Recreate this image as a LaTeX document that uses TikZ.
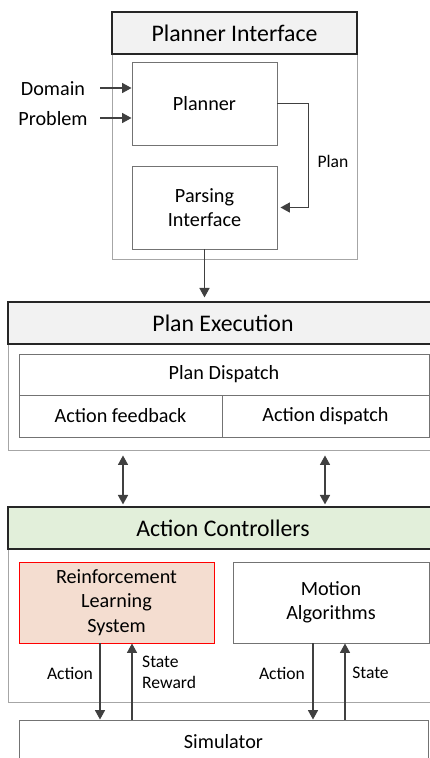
\documentclass[tikz,border=0pt]{standalone}
\usepackage{fontspec}
\setmainfont{Carlito}
\usepackage{tikz}
\usetikzlibrary{arrows.meta}
\definecolor{hdrgray}{HTML}{F2F2F2}
\definecolor{acgreen}{HTML}{E2EFDA}
\definecolor{rlpeach}{HTML}{F4DDD0}
\definecolor{arrgray}{HTML}{404040}

\begin{document}
\begin{tikzpicture}[x=1pt, y=-1pt, font=\fontsize{20.2}{24.3}\selectfont,
	hdr/.style = {draw=black!85, line width=1.1pt, fill=hdrgray, minimum height=42pt, inner sep=0pt, font=\fontsize{23.8}{28}\selectfont},
	frame/.style = {draw=black!35, line width=0.9pt, inner sep=0pt},
	blk/.style = {draw=black!55, line width=0.9pt, inner sep=0pt, align=center},
	lbl/.style = {inner sep=0pt, font=\fontsize{17.6}{21}\selectfont},
	arr/.style = {draw=arrgray, line width=1.6pt, -{Triangle[length=9.5pt, width=10pt]}},
	dblarr/.style = {draw=arrgray, line width=1.6pt, {Triangle[length=9.5pt, width=10pt]}-{Triangle[length=9.5pt, width=10pt]}}]
	\useasboundingbox (0,0) rectangle (430,758);
	\clip (0,0) rectangle (430,758);
	% planner interface
	\node[frame, minimum width=245pt, minimum height=247pt] (pib) at (234.5,135.5) {};
	\node[hdr, minimum width=245pt] (pi) at (234.5,33) {Planner Interface};
	\node[blk, minimum width=145pt, minimum height=83pt] (plan) at (204.5,103.5) {Planner};
	\node[blk, minimum width=145pt, minimum height=83pt] (parse) at (204.5,207.5) {Parsing\\Interface};
	\node[inner sep=0pt] (dom) at (53,89) {Domain};
	\node[inner sep=0pt] (prob) at (53,119) {Problem};
	\coordinate (din) at (100,88);
	\coordinate (pin) at (100,118);
	\draw[arr] (din) -- (din -| plan.west);
	\draw[arr] (pin) -- (pin -| plan.west);
	\draw[arr] (plan.east) -- ++(31,0) |- ([xshift=3pt]parse.east);
	\node[lbl] (plbl) at (333,161) {Plan};
	% plan execution
	\node[frame, minimum width=430pt, minimum height=148pt] (peb) at (223,376) {};
	\node[hdr, minimum width=430pt] (pe) at (223,323) {Plan Execution};
	\node[blk, minimum width=410pt, minimum height=41pt] (pd) at (224,374.5) {Plan Dispatch};
	\node[blk, minimum width=203pt, minimum height=42pt] (fb) at (120.5,416) {Action feedback};
	\node[blk, minimum width=207pt, minimum height=42pt] (ad) at (325.5,416) {Action dispatch};
	\draw[arr] (parse.south) -- ([yshift=4pt]parse.south |- pe.north);
	% action controllers
	\node[frame, minimum width=430pt, minimum height=195pt] (acb) at (223,604.5) {};
	\node[hdr, fill=acgreen, minimum width=430pt] (ac) at (223,528) {Action Controllers};
	\node[blk, draw=red, fill=rlpeach, minimum width=195pt, minimum height=81pt] (rl) at (116.5,602.5) {Reinforcement\\Learning\\System};
	\node[blk, minimum width=196pt, minimum height=81pt] (ma) at (331,602.5) {Motion\\Algorithms};
	\node[blk, minimum width=409pt, minimum height=44pt] (sim) at (223.5,742) {Simulator};
	\coordinate (fbx) at (123,0);
	\coordinate (adx) at (325,0);
	\draw[dblarr, shorten <=5pt, shorten >=2pt] (fbx |- peb.south) -- (fbx |- ac.north);
	\draw[dblarr, shorten <=5pt, shorten >=2pt] (adx |- peb.south) -- (adx |- ac.north);
	% links to the simulator
	\coordinate (rla) at (100,0);
	\coordinate (rls) at (132,0);
	\coordinate (maa) at (313,0);
	\coordinate (mas) at (345,0);
	\draw[arr] (rla |- rl.south) -- (rla |- sim.north);
	\draw[arr] (rls |- sim.north) -- (rls |- rl.south);
	\draw[arr] (maa |- ma.south) -- (maa |- sim.north);
	\draw[arr] (mas |- sim.north) -- (mas |- ma.south);
	\node[lbl] (rlact) at (70,673) {Action};
	\node[lbl, anchor=west, align=left] (rlst) at (142,672.5) {State\\Reward};
	\node[lbl] (maact) at (282,673) {Action};
	\node[lbl] (mast) at (370.5,673) {State};
\end{tikzpicture}
\end{document}
